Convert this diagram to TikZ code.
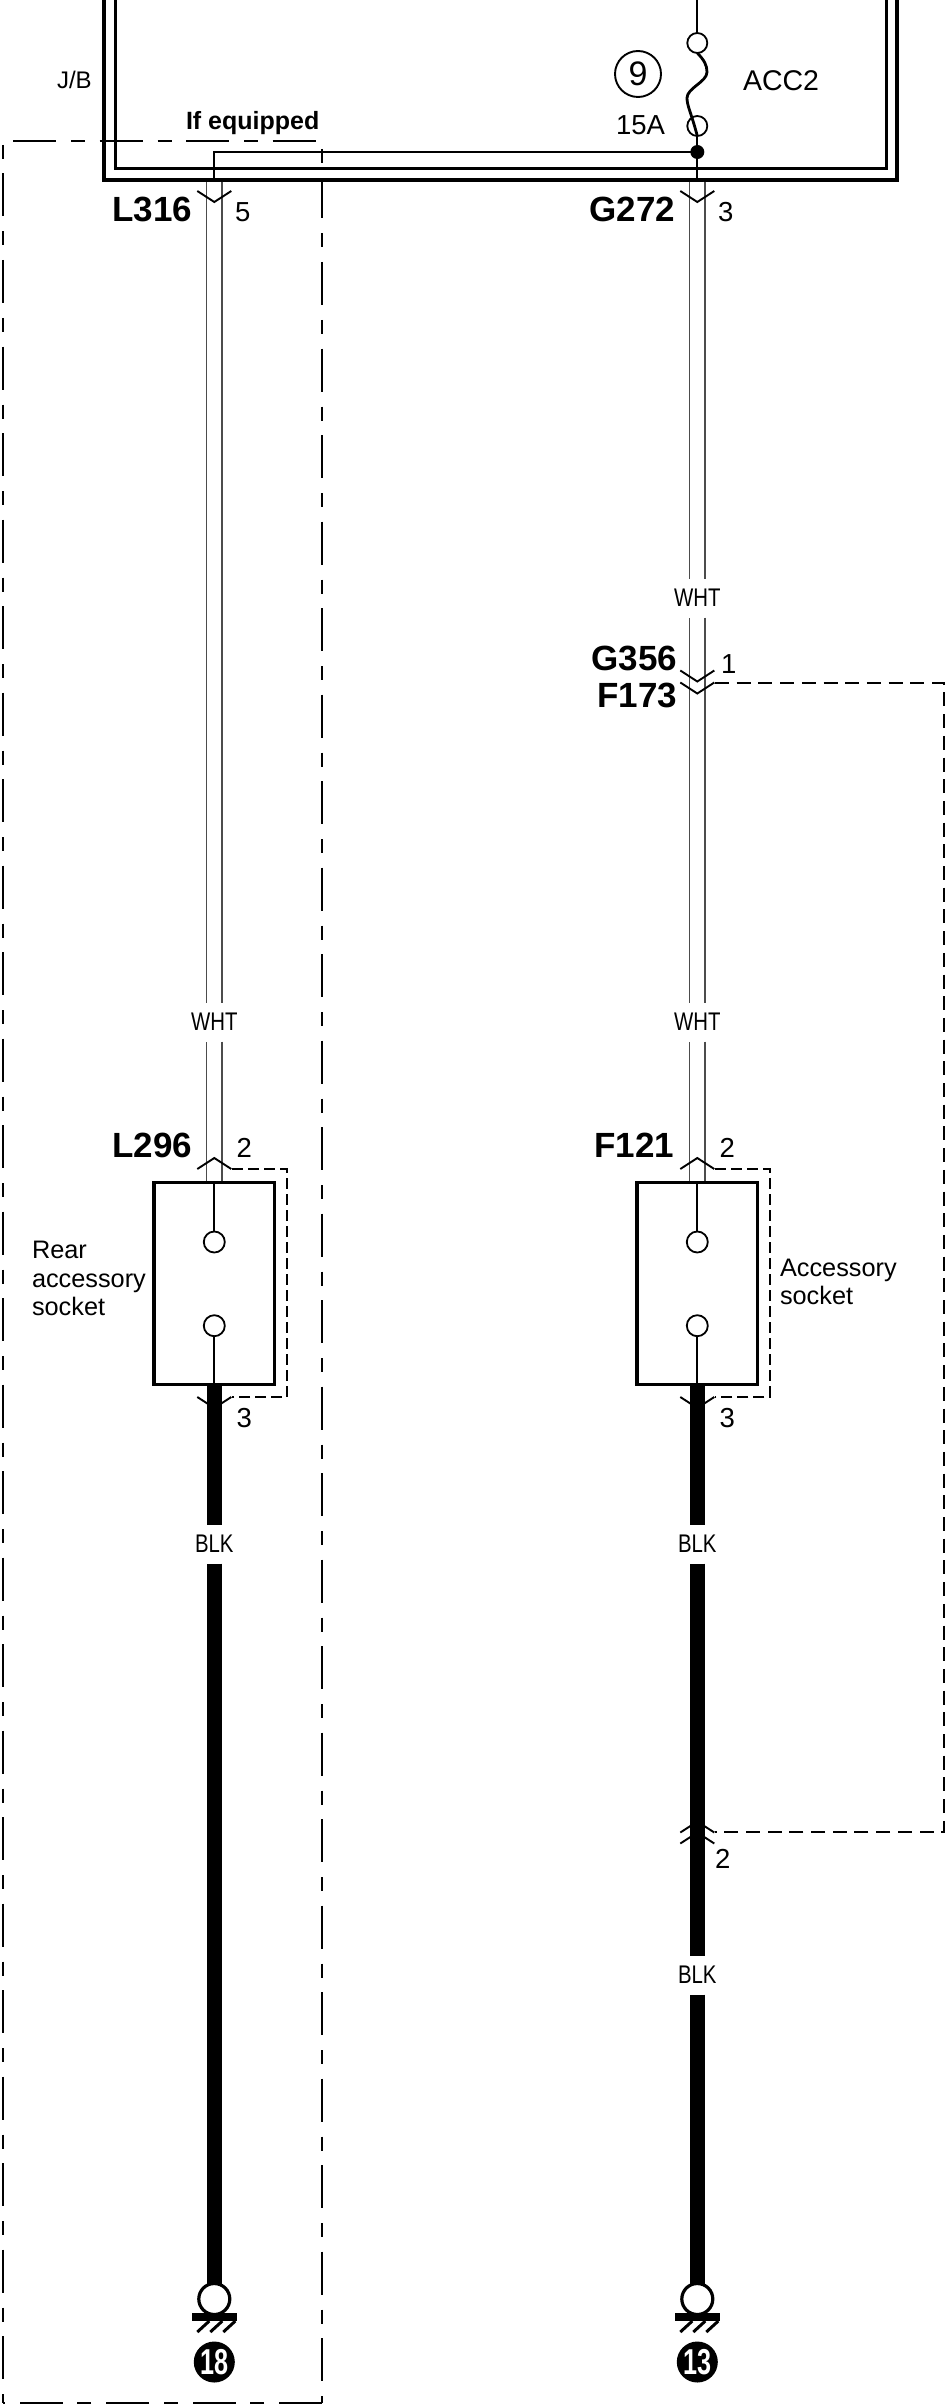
\documentclass[tikz,border=0pt]{standalone}
\usepackage{fontspec}
\setmainfont{Liberation Sans}
\newfontfamily\narrowf[FakeStretch=0.8]{Liberation Sans}
\newfontfamily\numf[FakeStretch=0.7]{Liberation Sans}
\newcommand{\fsz}[1]{\fontsize{#1pt}{#1pt}\selectfont}
\tikzset{
  x=1pt,y=-1pt,
  lbl/.style={inner sep=0pt,outer sep=0pt,anchor=base west,align=left},
  lblr/.style={inner sep=0pt,outer sep=0pt,anchor=base east},
  conn/.style={lblr,font=\bfseries\fsz{35}},
  pinn/.style={lbl,font=\fsz{27.5}},
  body/.style={lbl,font=\fsz{25.3}},
  wirelabel/.style={inner sep=0pt,outer sep=0pt,minimum height=39pt,font=\narrowf\fsz{25.5}},
  pairwire/.style={draw=black!70,line width=1.5pt,double=white,double distance=13.8pt},
  blkwire/.style={draw=black,line width=15.6pt},
  thin wire/.style={draw=black,line width=1.9pt},
  wall/.style={draw=black,line width=3.4pt,line join=miter},
  chev/.style={draw=black,line width=1.9pt},
  conndash/.style={draw=black,line width=1.9pt,dash pattern=on 14pt off 7.7pt},
  shortdash/.style={draw=black,line width=1.7pt,dash pattern=on 11pt off 5pt},
  bigdash/.style={draw=black,line width=1.7pt,dash pattern=on 43pt off 15pt on 14pt off 14.5pt},
  sockbox/.style={draw=black,line width=3.6pt,minimum width=120.5pt,minimum height=202pt,inner sep=0pt,outer sep=0pt},
  term/.style={circle,draw=black,line width=1.8pt,fill=white,minimum size=21pt,inner sep=0pt,outer sep=0pt},
  gndc/.style={circle,draw=black,line width=3.2pt,fill=white,minimum size=31pt,inner sep=0pt,outer sep=0pt},
  gndnum/.style={circle,fill=black,text=white,minimum size=41pt,inner sep=0pt,outer sep=0pt,font=\numf\bfseries\fsz{36}},
  downchev/.pic={\draw[chev] (-17,-5.5) -- (0,5.5) -- (17,-5.5);},
  upchev/.pic={\draw[chev] (-17,5.5) -- (0,-5.5) -- (17,5.5);},
  gndpic/.pic={
    \fill[black] (-22.5,-4) rectangle (22.5,4);
    \foreach \q in {-13,0,13}{\draw[black,line width=3pt] (\q+8,4) -- (\q-4,15);}
  },
}
\begin{document}
\begin{tikzpicture}
\useasboundingbox (0,0) rectangle (947,2405);
\fill[white] (0,0) rectangle (947,2405);

% coordinates
\coordinate (oTL) at (104,0); \coordinate (oBL) at (104,180);
\coordinate (oBR) at (897,180); \coordinate (oTR) at (897,0);
\coordinate (iTL) at (115,0); \coordinate (iBL) at (115,169);
\coordinate (iBR) at (886,169); \coordinate (iTR) at (886,0);
\coordinate (exitL) at (214.3,181.7);
\coordinate (exitR) at (697.3,181.7);
\coordinate (topR) at (697.3,0);
\coordinate (bendL) at (214.3,152);

% fuse
\node[term,minimum size=20pt] (fuseA) at (697.3,43) {};
\node[term,minimum size=20pt] (fuseB) at (697.3,126) {};
\node[circle,fill=black,minimum size=14pt,inner sep=0pt,outer sep=0pt] (dot) at (697.3,152) {};
\draw[thin wire] (topR) -- (fuseA.north);
\draw[draw=black,line width=2.8pt] (fuseA.south) .. controls (704,60) and (707,65) .. (707,72) .. controls (707,82) and (687,88) .. (687,98) .. controls (687,106) and (691,112) .. (fuseB.south);
\draw[thin wire] (fuseB.south) -- (dot.center) -- (exitR);
\draw[thin wire] (dot.center) -- (bendL) -- (exitL);

% J/B walls
\draw[wall] (oTL) -- (oBL) -- (oBR) -- (oTR);
\draw[wall,line width=3pt] (iTL) -- (iBL) -- (iBR) -- (iTR);

% texts at top
\node[lbl,font=\fsz{24}] (jb) at (57,89) {J/B};
\node[circle,draw=black,line width=1.9pt,minimum size=46pt,inner sep=0pt,font=\fsz{34}] (nine) at (638,74) {9};
\node[lbl,font=\fsz{28.5}] (acc) at (743,91) {ACC2};
\node[lbl,font=\fsz{27.5}] (amp) at (616,135) {15A};
\node[lbl,font=\bfseries\fsz{25}] (ifeq) at (186,130) {If equipped};

% big dashed zone
\coordinate (zT1) at (13,141); \coordinate (zT2) at (317,141);
\coordinate (zL1) at (3,145); \coordinate (zL2) at (3,2403);
\coordinate (zRa) at (322,149); \coordinate (zRb) at (322,163);
\coordinate (zR1) at (322,180); \coordinate (zR2) at (322,2403);
\coordinate (zB2) at (3,2403);
\draw[bigdash] (zT1) -- (zT2);
\draw[bigdash,dash phase=58pt] (zL1) -- (zL2);
\draw[draw=black,line width=1.7pt] (zRa) -- (zRb);
\draw[bigdash,dash phase=4.5pt] (zR1) -- (zR2);
\draw[bigdash] (zR2) -- (zB2);

% wire labels
\node[wirelabel] (whtA) at (697.3,598) {WHT};
\node[wirelabel] (whtB) at (697.3,1022) {WHT};
\node[wirelabel] (whtL) at (214.3,1022) {WHT};
\node[wirelabel] (blkL) at (214.3,1544) {BLK};
\node[wirelabel] (blkR) at (697.3,1544) {BLK};
\node[wirelabel] (blkR2) at (697.3,1975) {BLK};

% sockets (positions only; the frame is stroked after the harness wires)
\coordinate (sockLtop) at (214.3,1182.3);
\coordinate (sockRtop) at (697.3,1182.3);

% harness wires
\draw[pairwire] (exitL) -- (whtL.north);
\draw[pairwire] (whtL.south) -- (sockLtop);
\draw[pairwire] (exitR) -- (whtA.north);
\draw[pairwire] (whtA.south) -- (whtB.north);
\draw[pairwire] (whtB.south) -- (sockRtop);

\node[sockbox,fill=white] (sockL) at (214.3,1283.3) {};
\node[sockbox,fill=white] (sockR) at (697.3,1283.3) {};
\node[term] (tL1) at (214.3,1242) {};
\node[term] (tL2) at (214.3,1325.7) {};
\node[term] (tR1) at (697.3,1242) {};
\node[term] (tR2) at (697.3,1325.7) {};
\draw[thin wire] (sockL.north) -- (tL1.north);
\draw[thin wire] (tL2.south) -- (sockL.south);
\draw[thin wire] (sockR.north) -- (tR1.north);
\draw[thin wire] (tR2.south) -- (sockR.south);

% grounds
\node[gndc] (gL) at (214.3,2299) {};
\node[gndc] (gR) at (697.3,2299) {};
\pic at (214.3,2317) {gndpic};
\pic at (697.3,2317) {gndpic};
\node[gndnum] (nL) at (214.3,2362) {18};
\node[gndnum] (nR) at (697.3,2362) {13};

\draw[blkwire] (sockL.south) -- (blkL.north);
\draw[blkwire] (blkL.south) -- (gL.north);
\draw[blkwire] (sockR.south) -- (blkR.north);
\draw[blkwire] (blkR.south) -- (blkR2.north);
\draw[blkwire] (blkR2.south) -- (gR.north);

% connector chevrons
\pic at (214.3,196.5) {downchev};
\pic at (697.3,196.5) {downchev};
\pic at (697.3,676) {downchev};
\pic at (697.3,688) {downchev};
\pic at (214.3,1163.5) {upchev};
\pic at (697.3,1163.5) {upchev};
\pic at (214.3,1402.5) {downchev};
\pic at (697.3,1402.5) {downchev};
\pic at (697.3,1827) {upchev};
\pic at (697.3,1838) {upchev};

% dashed connector outlines
\coordinate (dTL) at (232,1169); \coordinate (dTLc) at (287,1169); \coordinate (dBLc) at (287,1397); \coordinate (dBL) at (232,1397);
\coordinate (dTR) at (715,1169); \coordinate (dTRc) at (769.7,1169); \coordinate (dBRc) at (769.7,1397); \coordinate (dBR) at (715,1397);
\draw[shortdash] (dTL) -- (dTLc) -- (dBLc) -- (dBL);
\draw[shortdash] (dTR) -- (dTRc) -- (dBRc) -- (dBR);
\coordinate (cA) at (715,682.7); \coordinate (cB) at (944,682.7); \coordinate (cC) at (944,1832); \coordinate (cD) at (715,1832);
\draw[conndash] (cA) -- (cB) -- (cC) -- (cD);

% connector names and pins
\node[conn] (nL316) at (192,222) {L316};
\node[conn] (nG272) at (675,222) {G272};
\node[pinn] (p5) at (235,222) {5};
\node[pinn] (p3a) at (718,222) {3};
\node[conn] (nG356) at (677,670) {G356};
\node[conn] (nF173) at (677,707) {F173};
\node[pinn] (p1) at (721,673) {1};
\node[conn] (nL296) at (192,1157) {L296};
\node[conn] (nF121) at (674,1157) {F121};
\node[pinn] (p2a) at (236.5,1157) {2};
\node[pinn] (p2b) at (719.5,1157) {2};
\node[pinn] (p3b) at (236.5,1427) {3};
\node[pinn] (p3c) at (719.5,1427) {3};
\node[pinn] (p2c) at (715,1868) {2};

% socket labels
\node[body] (rr1) at (32,1258) {Rear};
\node[body] (rr2) at (32,1287) {accessory};
\node[body] (rr3) at (32,1315) {socket};
\node[body] (ra1) at (780,1276) {Accessory};
\node[body] (ra2) at (780,1304) {socket};
\end{tikzpicture}
\end{document}
